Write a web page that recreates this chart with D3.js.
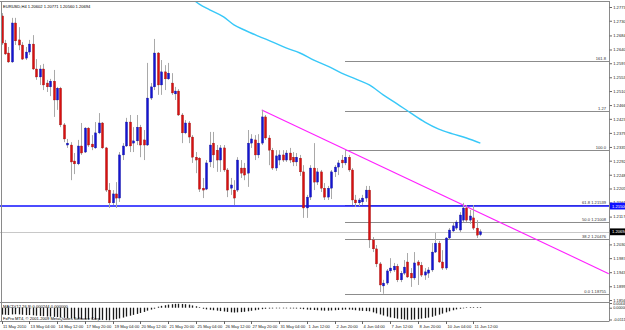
<!DOCTYPE html>
<html>
<head>
<meta charset="utf-8">
<script src="https://cdnjs.cloudflare.com/ajax/libs/d3/7.8.5/d3.min.js"></script>
<style>
  body { margin: 0; background: #fff; }
  svg { display: block; font-family: "Liberation Sans", Arial, sans-serif; }
</style>
</head>
<body>
<svg id="chart" width="625" height="330"></svg>
<script>
// EURUSD H4 candles, bar 0 = 11 May 2010 16:00
var opens = [1.2745,1.2660,1.2629,1.2601,1.2723,1.2670,1.2654,1.2613,1.2632,1.2657,
  1.2579,1.2554,1.2579,1.2535,1.2523,1.2541,1.2482,1.2519,1.2404,1.2341,
  1.2341,1.2291,1.2282,1.2338,1.2319,1.2394,1.2344,1.2332,1.2379,1.2410,
  1.2332,1.2200,1.2160,1.2188,1.2175,1.2310,1.2338,1.2413,1.2347,1.2354,
  1.2397,1.2357,1.2341,1.2488,1.2523,1.2629,1.2529,1.2570,1.2548,1.2535,
  1.2501,1.2510,1.2435,1.2379,1.2410,1.2366,1.2303,1.2300,1.2206,1.2203,
  1.2288,1.2347,1.2325,1.2294,1.2332,1.2263,1.2206,1.2200,1.2200,1.2269,
  1.2269,1.2253,1.2347,1.2357,1.2310,1.2347,1.2429,1.2363,1.2325,1.2269,
  1.2294,1.2310,1.2294,1.2316,1.2303,1.2288,1.2300,1.2257,1.2144,1.2178,
  1.2269,1.2225,1.2257,1.2206,1.2178,1.2206,1.2257,1.2272,1.2294,1.2285,
  1.2303,1.2263,1.2169,1.2160,1.2163,1.2175,1.2200,1.2044,1.2016,1.1969,
  1.1900,1.1909,1.1947,1.1950,1.1962,1.1919,1.1940,1.1975,1.1940,1.1925,
  1.1975,1.1965,1.1934,1.1940,1.1950,1.2006,1.2034,1.1975,1.1956,1.2050,
  1.2072,1.2081,1.2075,1.2106,1.2144,1.2106,1.2113,1.2081,1.20602];
var highs = [1.2754,1.2670,1.2648,1.2739,1.2739,1.2710,1.2663,1.2648,1.2670,1.2685,
  1.2610,1.2591,1.2595,1.2545,1.2548,1.2576,1.2523,1.2523,1.2410,1.2360,
  1.2350,1.2316,1.2357,1.2410,1.2397,1.2397,1.2372,1.2413,1.2441,1.2413,
  1.2335,1.2222,1.2200,1.2225,1.2319,1.2347,1.2426,1.2435,1.2397,1.2435,
  1.2404,1.2388,1.2598,1.2535,1.2673,1.2632,1.2607,1.2591,1.2598,1.2566,
  1.2523,1.2516,1.2441,1.2419,1.2416,1.2372,1.2319,1.2303,1.2238,1.2294,
  1.2382,1.2382,1.2341,1.2341,1.2341,1.2269,1.2238,1.2231,1.2303,1.2294,
  1.2285,1.2388,1.2375,1.2372,1.2375,1.2451,1.2435,1.2372,1.2332,1.2325,
  1.2325,1.2325,1.2325,1.2332,1.2319,1.2316,1.2310,1.2278,1.2185,1.2278,
  1.2347,1.2269,1.2263,1.2222,1.2213,1.2263,1.2278,1.2294,1.2310,1.2326,
  1.2310,1.2269,1.2185,1.2175,1.2185,1.2213,1.2213,1.2053,1.2028,1.1975,
  1.1919,1.1953,1.1987,1.1972,1.1969,1.1947,1.1981,1.2003,1.1956,1.2006,
  1.1981,1.1975,1.1956,1.1959,1.2034,1.2066,1.2041,1.2012,1.2053,1.2081,
  1.2097,1.2106,1.2131,1.2160,1.2153,1.2138,1.2153,1.2106,1.20771];
var lows = [1.2654,1.2623,1.2598,1.2598,1.2654,1.2638,1.2607,1.2607,1.2623,1.2576,
  1.2545,1.2529,1.2513,1.2507,1.2494,1.2429,1.2451,1.2397,1.2350,1.2332,
  1.2231,1.2250,1.2278,1.2310,1.2316,1.2335,1.2325,1.2329,1.2375,1.2329,
  1.2194,1.2144,1.2153,1.2144,1.2163,1.2294,1.2335,1.2319,1.2319,1.2341,
  1.2303,1.2294,1.2338,1.2482,1.2513,1.2498,1.2498,1.2513,1.2545,1.2498,
  1.2482,1.2432,1.2347,1.2375,1.2347,1.2285,1.2253,1.2194,1.2175,1.2200,
  1.2272,1.2269,1.2257,1.2257,1.2257,1.2178,1.2185,1.2153,1.2194,1.2238,
  1.2231,1.2210,1.2332,1.2294,1.2300,1.2341,1.2357,1.2278,1.2263,1.2260,
  1.2278,1.2288,1.2288,1.2285,1.2275,1.2275,1.2244,1.2113,1.2113,1.2169,
  1.2200,1.2216,1.2194,1.2169,1.2169,1.2172,1.2241,1.2247,1.2269,1.2278,
  1.2257,1.2153,1.2147,1.2150,1.2153,1.2163,1.2019,1.2006,1.1959,1.1881,
  1.18755,1.1903,1.1940,1.1944,1.1912,1.1912,1.1934,1.1925,1.1897,1.1919,
  1.1903,1.1928,1.1919,1.1925,1.1944,1.2003,1.1972,1.1950,1.1950,1.2044,
  1.2069,1.2075,1.2069,1.2100,1.2100,1.2094,1.2075,1.2050,1.20560];
var closes = [1.2660,1.2626,1.2601,1.2723,1.2667,1.2654,1.2610,1.2632,1.2657,1.2579,
  1.2554,1.2579,1.2529,1.2523,1.2541,1.2482,1.2519,1.2404,1.2360,1.2347,
  1.2288,1.2282,1.2338,1.2316,1.2394,1.2341,1.2335,1.2379,1.2410,1.2332,
  1.2200,1.2160,1.2188,1.2175,1.2310,1.2338,1.2413,1.2338,1.2354,1.2397,
  1.2341,1.2341,1.2488,1.2523,1.2629,1.2529,1.2570,1.2548,1.2566,1.2504,
  1.2510,1.2435,1.2379,1.2410,1.2366,1.2303,1.2294,1.2203,1.2200,1.2285,
  1.2341,1.2310,1.2294,1.2332,1.2263,1.2200,1.2216,1.2175,1.2294,1.2253,
  1.2247,1.2347,1.2360,1.2310,1.2347,1.2429,1.2363,1.2325,1.2269,1.2307,
  1.2310,1.2294,1.2316,1.2294,1.2288,1.2303,1.2257,1.2144,1.2178,1.2269,
  1.2225,1.2257,1.2206,1.2178,1.2206,1.2257,1.2272,1.2285,1.2285,1.2303,
  1.2263,1.2169,1.2160,1.2169,1.2175,1.2200,1.2044,1.2016,1.1969,1.1903,
  1.1909,1.1947,1.1956,1.1962,1.1919,1.1940,1.1959,1.1928,1.1925,1.1972,
  1.1965,1.1934,1.1944,1.1950,1.2006,1.2034,1.1975,1.1956,1.2050,1.2075,
  1.2088,1.2100,1.2122,1.2144,1.2106,1.2119,1.2081,1.2059,1.20694];

// MACD(12,26,9) histogram
var macd = [-0.0062,-0.0063,-0.0065,-0.0060,-0.0058,-0.0060,-0.0063,-0.0066,-0.0066,-0.0068,
  -0.0072,-0.0074,-0.0076,-0.0079,-0.0080,-0.0083,-0.0085,-0.0088,-0.0092,-0.0095,
  -0.0098,-0.0100,-0.0102,-0.0104,-0.0105,-0.0107,-0.0108,-0.0108,-0.0110,-0.0112,
  -0.0114,-0.0115,-0.0110,-0.0105,-0.0098,-0.0090,-0.0080,-0.0072,-0.0064,-0.0055,
  -0.0046,-0.0036,-0.0024,-0.0014,-0.0005,0.0006,0.0014,0.0020,0.0026,0.0030,
  0.0033,0.0034,0.0032,0.0030,0.0026,0.0018,0.0010,0.0002,-0.0006,-0.0012,
  -0.0016,-0.0020,-0.0024,-0.0028,-0.0032,-0.0036,-0.0040,-0.0042,-0.0040,-0.0038,
  -0.0035,-0.0030,-0.0025,-0.0020,-0.0015,-0.0010,-0.0006,-0.0004,-0.0003,-0.0002,
  -0.0002,-0.0002,-0.0002,-0.0003,-0.0003,-0.0004,-0.0006,-0.0010,-0.0014,-0.0016,
  -0.0018,-0.0020,-0.0022,-0.0024,-0.0024,-0.0022,-0.0020,-0.0018,-0.0016,-0.0014,
  -0.0014,-0.0016,-0.0020,-0.0024,-0.0026,-0.0028,-0.0030,-0.0040,-0.0050,-0.0060,
  -0.0070,-0.0080,-0.0088,-0.0095,-0.0100,-0.0105,-0.0108,-0.0110,-0.0110,-0.0108,
  -0.0105,-0.0100,-0.0095,-0.0090,-0.0082,-0.0072,-0.0062,-0.0052,-0.0040,-0.0030,
  -0.0020,-0.0012,-0.0006,-0.0002,0.0001,0.0002,0.0002,0.0002,0.0002];

// moving average (cyan), read at sample bars
var maBars = [55,57,60,64,67,70,74,78,82,86,90,94,98,102,106,110,114,118,122,126,130,134,138];
var maValues = [1.2798,1.2782,1.2764,1.2742,1.2717,1.2701,1.2682,1.2664,1.2645,1.2629,
  1.2607,1.2588,1.2566,1.2548,1.2529,1.2498,1.2470,1.2441,1.2413,1.2391,1.2376,1.2363,1.2347];

var priceTicks = ["1.27730","1.27300","1.26840","1.26400","1.25970","1.25530","1.25100","1.24660",
  "1.24230","1.23790","1.23350","1.22920","1.22480","1.22050","1.21610","1.21170","1.20740",
  "1.20300","1.19870","1.19430","1.18990","1.18560"];
var timeLabels = ["11 May 2010","13 May 04:00","14 May 12:00","17 May 20:00","19 May 04:00",
  "20 May 12:00","21 May 20:00","25 May 04:00","26 May 12:00","27 May 20:00","31 May 04:00",
  "1 Jun 12:00","2 Jun 20:00","4 Jun 04:00","7 Jun 12:00","8 Jun 20:00","10 Jun 04:00","11 Jun 12:00"];
var timeLabelBars = [0,8,16,24,32,40,48,56,64,72,80,88,96,104,112,120,128,136];

var fibLevels = [0, 38.2, 50.0, 61.8, 100.0, 127.2, 161.8];
var fibText = ["0.0", "38.2", "50.0", "61.8", "100.0", "1.27", "161.8"];
var fibWithPrice = [true, true, true, true, false, false, false];
var fibLow = 1.18755, fibHigh = 1.23260, fibStartBar = 99;

var trendBars = [75, 99], trendPrices = [1.2451, 1.2328];
var levelLine = 1.21500;
var lastPrice = closes[closes.length - 1];
var macdTicks = ["0.004463", "0.000000", "-0.011199"];
var macdTickValues = [0.004463, 0, -0.011199];

var svg = d3.select("#chart"),
    W = 625, AXIS_X = 609, MAIN_BOTTOM = 302, SUB_BOTTOM = 321,
    x = d3.scaleLinear().domain([0, 175]).range([1.5, 608.75]),
    y = d3.scaleLinear().domain([1.1856, 1.2773]).range([300, 7]),
    ym = d3.scaleLinear().domain([-0.0112, 0.0045]).range([319.5, 303]);

svg.append("rect").attr("width", W).attr("height", 330).attr("fill", "#fff");

svg.append("clipPath").attr("id", "mainClip")
  .append("rect").attr("x", 0).attr("y", 1).attr("width", AXIS_X).attr("height", MAIN_BOTTOM - 1);

var main = svg.append("g").attr("clip-path", "url(#mainClip)");

// current price + level line
main.append("line")
  .attr("x1", 0).attr("x2", AXIS_X)
  .attr("y1", Math.round(y(lastPrice)) + 0.5).attr("y2", Math.round(y(lastPrice)) + 0.5)
  .attr("stroke", "#c8c8c8").attr("stroke-width", 1);

// fibonacci
var fibPrice = function(l) { return fibLow + (fibHigh - fibLow) * l / 100; };
fibLevels.forEach(function(l, k) {
  var py = Math.round(y(fibPrice(l))) + 0.5;
  main.append("line")
    .attr("x1", x(fibStartBar)).attr("x2", AXIS_X)
    .attr("y1", py).attr("y2", py)
    .attr("stroke", "#8c8c8c").attr("stroke-width", 1);
  main.append("text")
    .attr("x", 606).attr("y", py - 1.3)
    .attr("text-anchor", "end")
    .attr("font-size", 4.1).attr("fill", "#333")
    .text(fibText[k] + (fibWithPrice[k] ? "  " + fibPrice(l).toFixed(5) : ""));
});

main.append("line")
  .attr("x1", 0).attr("x2", AXIS_X)
  .attr("y1", y(levelLine)).attr("y2", y(levelLine))
  .attr("stroke", "#1010ff").attr("stroke-width", 1.6);

// moving average
var maLine = d3.line()
  .x(function(d, k) { return x(maBars[k]); })
  .y(function(d) { return y(d); })
  .curve(d3.curveMonotoneX);
main.append("path")
  .attr("d", maLine(maValues))
  .attr("fill", "none").attr("stroke", "#38c8f8").attr("stroke-width", 1.4);

// trend line extended to the right edge
var slope = (trendPrices[1] - trendPrices[0]) / (trendBars[1] - trendBars[0]);
main.append("line")
  .attr("x1", x(trendBars[0])).attr("y1", y(trendPrices[0]))
  .attr("x2", x(175)).attr("y2", y(trendPrices[0] + slope * (175 - trendBars[0])))
  .attr("stroke", "#ff20ff").attr("stroke-width", 1.1);

// candles
var bars = d3.range(opens.length);
main.selectAll(".wick").data(bars).enter().append("line")
  .attr("x1", function(i) { return Math.round(x(i)) + 0.5; })
  .attr("x2", function(i) { return Math.round(x(i)) + 0.5; })
  .attr("y1", function(i) { return y(highs[i]); })
  .attr("y2", function(i) { return y(lows[i]); })
  .attr("stroke", "#a9a9a9").attr("stroke-width", 1);

main.selectAll(".body").data(bars).enter().append("rect")
  .attr("x", function(i) { return Math.round(x(i)) - 0.6; })
  .attr("width", 2.2)
  .attr("y", function(i) { return y(Math.max(opens[i], closes[i])); })
  .attr("height", function(i) { return Math.max(1, Math.abs(y(opens[i]) - y(closes[i]))); })
  .attr("fill", function(i) { return closes[i] >= opens[i] ? "#1414d2" : "#d81010"; })
  .attr("stroke", function(i) { return closes[i] >= opens[i] ? "#10108a" : "#8a1010"; })
  .attr("stroke-width", 0.3);

svg.append("text")
  .attr("x", 3).attr("y", 7.5)
  .attr("font-size", 4.1).attr("fill", "#000")
  .text("EURUSD,H4  " + opens[138].toFixed(5) + " " + highs[138].toFixed(5) + " " +
        lows[138].toFixed(5) + " " + closes[138].toFixed(5));

// MACD panel
svg.selectAll(".macd").data(bars).enter().append("line")
  .attr("x1", function(i) { return Math.round(x(i)) + 0.5; })
  .attr("x2", function(i) { return Math.round(x(i)) + 0.5; })
  .attr("y1", ym(0))
  .attr("y2", function(i) { return ym(macd[i]) + (macd[i] < 0 ? 0.4 : -0.4); })
  .attr("stroke", "#1a1a1a").attr("stroke-width", 1.3);

svg.append("text").attr("x", 3).attr("y", 307.5)
  .attr("font-size", 4.1).attr("fill", "#000")
  .text("MACD(12,26,9) 0.000244 0.000000");
svg.append("text").attr("x", 3).attr("y", 319.5)
  .attr("font-size", 4.1).attr("fill", "#000")
  .text("FxPro MT4, \u00a9 2001-2009 MetaQuotes Software Corp.");

// frame
var frame = svg.append("g").attr("stroke", "#8a8a8a").attr("stroke-width", 1).attr("fill", "none");
frame.append("line").attr("x1", 0).attr("x2", AXIS_X + 0.5).attr("y1", 1.5).attr("y2", 1.5);
frame.append("line").attr("x1", 1.5).attr("x2", 1.5).attr("y1", 1).attr("y2", SUB_BOTTOM);
frame.append("line").attr("x1", AXIS_X + 0.5).attr("x2", AXIS_X + 0.5).attr("y1", 1).attr("y2", SUB_BOTTOM + 0.5);
frame.append("line").attr("x1", 0).attr("x2", AXIS_X).attr("y1", MAIN_BOTTOM + 0.5).attr("y2", MAIN_BOTTOM + 0.5);
frame.append("line").attr("x1", 0).attr("x2", AXIS_X).attr("y1", SUB_BOTTOM + 0.5).attr("y2", SUB_BOTTOM + 0.5);

// price axis
var yAxis = d3.axisRight(y)
  .tickValues(priceTicks.map(Number))
  .tickSize(2.5).tickPadding(1.2)
  .tickFormat(function(d, k) { return priceTicks[k]; });
var yg = svg.append("g").attr("transform", "translate(" + (AXIS_X + 0.5) + ",0)").call(yAxis);
yg.select(".domain").remove();
yg.selectAll("line").attr("stroke", "#666");
yg.selectAll("text").attr("font-size", 4.1).attr("fill", "#222").attr("font-family", null);

var macdAxis = d3.axisRight(ym)
  .tickValues(macdTickValues).tickSize(2.5).tickPadding(1.2)
  .tickFormat(function(d, k) { return macdTicks[k]; });
var mg = svg.append("g").attr("transform", "translate(" + (AXIS_X + 0.5) + ",0)").call(macdAxis);
mg.select(".domain").remove();
mg.selectAll("line").attr("stroke", "#666");
mg.selectAll("text").attr("font-size", 3.8).attr("fill", "#222").attr("font-family", null);

// highlighted price tags
[[levelLine, "#1010ff", levelLine.toFixed(5)], [lastPrice, "#000", lastPrice.toFixed(5)]].forEach(function(t) {
  var ty = y(t[0]);
  svg.append("rect").attr("x", AXIS_X + 1).attr("y", ty - 3.4).attr("width", W - AXIS_X).attr("height", 6.8)
    .attr("fill", t[1]);
  svg.append("text").attr("x", AXIS_X + 3).attr("y", ty + 1.5)
    .attr("font-size", 4.1).attr("fill", "#fff").text(t[2]);
});

// time axis
var tg = svg.append("g");
timeLabelBars.forEach(function(b, k) {
  var tx = Math.round(x(b)) + 0.5;
  tg.append("line").attr("x1", tx).attr("x2", tx).attr("y1", SUB_BOTTOM).attr("y2", SUB_BOTTOM + 3)
    .attr("stroke", "#666").attr("stroke-width", 1);
  tg.append("text").attr("x", tx + (k === 0 ? 0.5 : 1)).attr("y", 327.8)
    .attr("font-size", 4.1).attr("fill", "#222").text(timeLabels[k]);
});
</script>
</body>
</html>
